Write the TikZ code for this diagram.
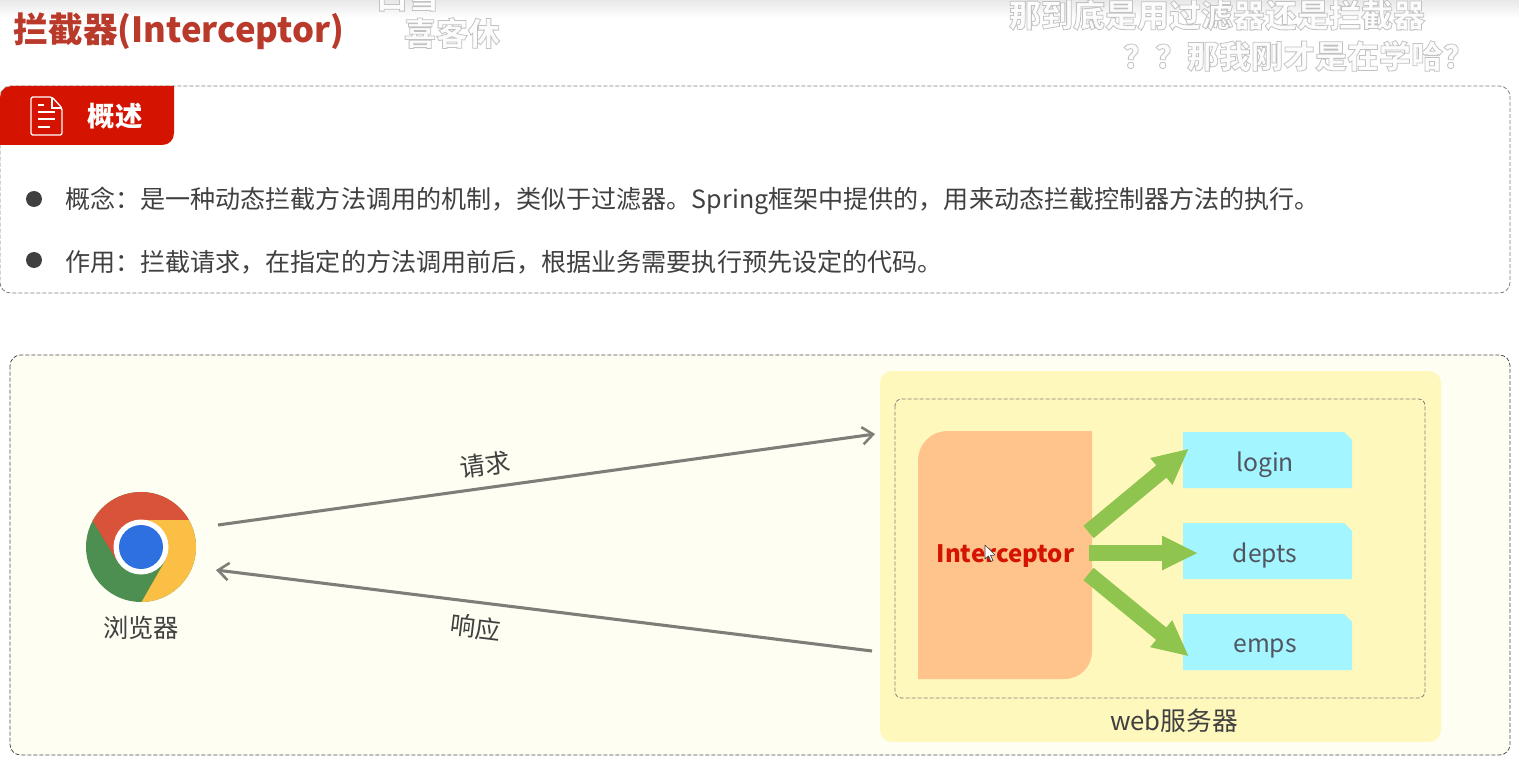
\documentclass[tikz,border=0pt]{standalone}
\usepackage{fontspec}
\usetikzlibrary{arrows.meta,shadings}
\setmainfont{Noto Sans CJK SC}
\definecolor{titlered}{HTML}{B93A2B}
\definecolor{tabred}{HTML}{D41400}
\definecolor{bodytext}{HTML}{404040}
\definecolor{panelfill}{HTML}{FFFEF2}
\definecolor{serverfill}{HTML}{FFF8BD}
\definecolor{orangefill}{HTML}{FFC48C}
\definecolor{cyanfill}{HTML}{A3F5FF}
\definecolor{arrowgreen}{HTML}{8FC44E}
\definecolor{arrowgray}{HTML}{7F7D78}
\definecolor{dashgray}{HTML}{7E7E7E}
\definecolor{labeltext}{HTML}{505560}
\newcommand{\outlinetext}[1]{\special{pdf:code q 2 Tr 0.6 w 0.76 G 0.99 g}#1\special{pdf:code Q}}
\tikzset{
  x=0.75pt,y=-0.75pt,
  txt/.style={inner sep=0pt,anchor=center},
  bodyline/.style={inner sep=0pt,anchor=west,text=bodytext,font=\fontsize{18.8}{22}\selectfont},
  danmu/.style={inner sep=0pt,font=\fontsize{24}{28}\bfseries\selectfont},
  panel/.style={draw=dashgray,dashed,dash pattern=on 3pt off 1.5pt,line width=0.6pt,rounded corners=8pt},
  endpoint/.style={cyanfill},
  bigarrow/.style={draw=arrowgreen,line width=12pt,-{Triangle[length=27pt,width=24pt]}},
  thinarrow/.style={draw=arrowgray,line width=2.3pt,-{Straight Barb[length=8pt,width=13pt,line width=1.9pt]}},
  boxlabel/.style={inner sep=0pt,text=labeltext,font=\fontsize{18.5}{22}\selectfont},
  plainlabel/.style={inner sep=0pt,text=bodytext,font=\fontsize{19}{22}\selectfont},
}
\begin{document}
\begin{tikzpicture}
\useasboundingbox (0,0) rectangle (1519,770);
\clip (0,0) rectangle (1519,770);
\fill[white] (0,0) rectangle (1519,770);
\shade[top color=black!9,bottom color=white] (0,0) rectangle (1519,18);

% title
\node[txt,anchor=west,text=titlered,font=\fontsize{26}{30}\bfseries\selectfont] (title) at (13.5,31) {拦截器(Interceptor)};

% danmaku
\node[danmu] (d0) at (408,-4) {\outlinetext{白雪}};
\node[danmu] (d1) at (452,33) {\outlinetext{喜客休}};
\node[danmu] (d2) at (1217,15) {\outlinetext{那到底是用过滤器还是拦截器}};
\node[danmu] (d3) at (1299,56) {\outlinetext{？？那我刚才是在学哈？}};

% overview panel
\draw[panel] (0,86) rectangle (1510,293);
\fill[tabred,rounded corners=0pt] (0,145) -- (0,98)
  .. controls (0,91) and (5,86) .. (12,86) -- (174,86) -- (174,133)
  .. controls (174,140) and (169,145) .. (162,145) -- cycle;
% document icon
\draw[white,line width=1pt,line join=round,rounded corners=1.5pt] (31,97) -- (52,97) -- (62,108) -- (62,135) -- (31,135) -- cycle;
\draw[white,line width=0.9pt] (52,97) -- (52,108) -- (62,108);
\foreach \yy/\xa/\xb in {105/38/44, 112/38/55, 119/38/55, 127/38/50}
  \draw[white,line width=0.9pt] (\xa,\yy) -- (\xb,\yy);
\node[txt,text=white,font=\fontsize{20.5}{24}\bfseries\selectfont] (tabtext) at (115,116.5) {概述};

\fill[bodytext] (34,199) circle [radius=8];
\fill[bodytext] (34,260) circle [radius=8];
\node[bodyline] (line1) at (65,201) {概念：是一种动态拦截方法调用的机制，类似于过滤器。Spring框架中提供的，用来动态拦截控制器方法的执行。};
\node[bodyline] (line2) at (65,262) {作用：拦截请求，在指定的方法调用前后，根据业务需要执行预先设定的代码。};

% diagram panel
\draw[panel,fill=panelfill,draw=black!70] (10,355) rectangle (1510,755);
\fill[serverfill,rounded corners=9pt] (880,371) rectangle (1441,742);
\draw[panel,rounded corners=5pt] (895,399) rectangle (1425,698);

% chrome logo
\begin{scope}
  \clip (141,547) circle [radius=55];
  \fill[color={rgb,255:red,76;green,143;blue,80}] (80,480) rectangle (200,610);
  \fill[color={rgb,255:red,217;green,82;blue,58}] (141,520) -- (200,520) -- (200,480) -- (80,480) -- (80,500) -- (117,561) -- cycle;
  \fill[color={rgb,255:red,251;green,191;blue,69}] (141,520) -- (200,520) -- (200,610) -- (137,610) -- (165,561) -- cycle;
\end{scope}
\fill[white] (141,547) circle [radius=27.5];
\fill[color={rgb,255:red,47;green,112;blue,224}] (141,547) circle [radius=22];
\coordinate (browserout) at (218,525);
\coordinate (browserin) at (216,570);
\node[plainlabel,font=\fontsize{19}{22}\selectfont] (browser) at (141,628) {浏览器};

% server
\coordinate (serverin) at (875,434);
\coordinate (serverout) at (872,651);
\draw[thinarrow] (browserout) -- (serverin);
\draw[thinarrow] (serverout) -- (browserin);
\node[plainlabel,rotate=7.9] (req) at (485.5,464.5) {请求};
\node[plainlabel,rotate=-7] (resp) at (476,627.5) {响应};
\node[plainlabel,font=\fontsize{19.3}{22}\selectfont] (web) at (1174,721) {web服务器};

% interceptor block
\fill[orangefill] (918,679) -- (918,461) .. controls (918,444) and (931,431) .. (948,431) -- (1092,431) -- (1092,651)
  .. controls (1092,667) and (1080,679) .. (1064,679) -- cycle;
\node[txt,text=tabred,font=\fontsize{18}{22}\bfseries\selectfont] (interceptor) at (1005.5,556) {Interceptor};

% endpoints
\foreach \yy in {432,523,614}
  \fill[endpoint] (1183,\yy) -- (1344,\yy) -- (1352,\yy+8) -- (1352,\yy+56) -- (1183,\yy+56) -- cycle;
\node[boxlabel] (login) at (1265,464.5) {login};
\node[boxlabel] (depts) at (1265,555.5) {depts};
\node[boxlabel] (emps) at (1265,648) {emps};

\coordinate (a1s) at (1088.5,532);
\coordinate (a1e) at (1189,448.5);
\coordinate (a2s) at (1089,553);
\coordinate (a2e) at (1198,553);
\coordinate (a3s) at (1088.5,574);
\coordinate (a3e) at (1189,656.5);
\draw[bigarrow] (a1s) -- (a1e);
\draw[bigarrow] (a2s) -- (a2e);
\draw[bigarrow] (a3s) -- (a3e);

% cursor
\fill[white,draw=black!75,line width=0.5pt,line join=round] (985,545) -- (985,559) -- (988.5,556) -- (991,561.5) -- (993,560.5) -- (990.5,555.5) -- (995,555) -- cycle;
\end{tikzpicture}
\end{document}
